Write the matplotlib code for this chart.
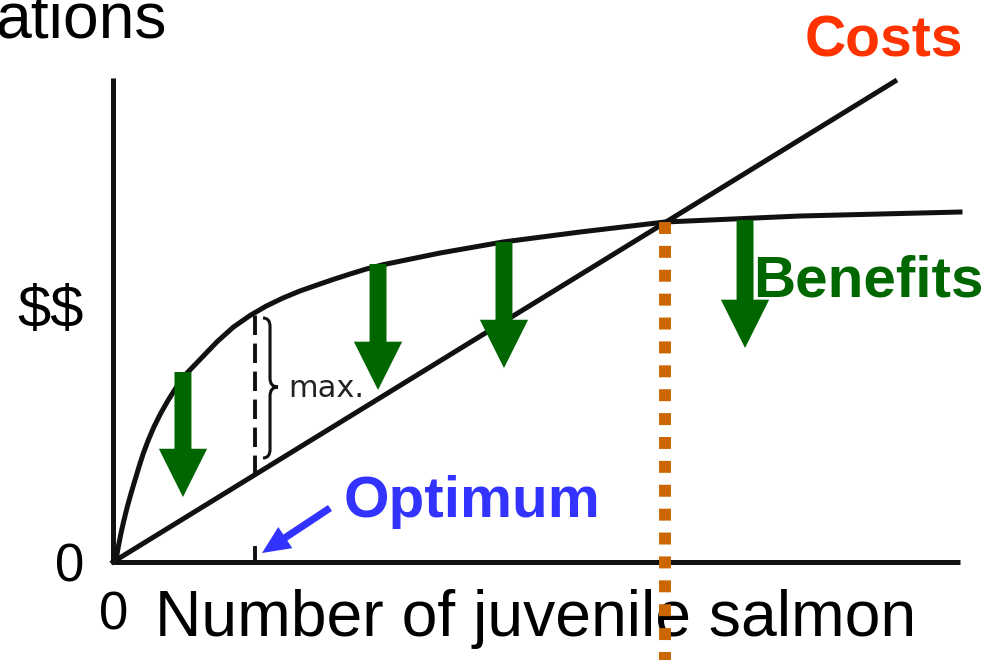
import matplotlib.pyplot as plt
from matplotlib.path import Path
from matplotlib.patches import PathPatch

plt.rcParams['font.family'] = ['Liberation Sans', 'DejaVu Sans']

# benefit curve (x = number of salmon, y = $$)
benefit_x = [0, 0.035, 0.063, 0.094, 0.130, 0.169, 0.213, 0.260, 0.307, 0.358,
             0.417, 0.484, 0.563, 0.653, 0.752, 0.870, 1.007, 1.228, 1.417, 1.617,
             1.806, 2.007, 2.208, 2.408, 2.597, 2.798, 2.987, 3.188, 3.861, 4.604,
             5.514, 6.517, 8.111, 10.0]
benefit_y = [0, 0.024, 0.181, 0.339, 0.496, 0.653, 0.811, 0.968, 1.125, 1.283,
             1.440, 1.597, 1.755, 1.913, 2.070, 2.228, 2.370, 2.600, 2.770, 2.910,
             3.020, 3.117, 3.200, 3.270, 3.335, 3.400, 3.458, 3.510, 3.648, 3.778,
             3.896, 4.014, 4.085, 4.132]

# cost line
costs_x = [0, 9.256]
costs_y = [0, 5.691]

# green arrows (benefit -> cost)
arrow_x = [0.826, 3.129, 4.616, 7.462]
arrow_top = [2.243, 3.518, 3.778, 4.037]
arrow_tip = [0.767, 2.031, 2.290, 2.527]

optimum_x = 1.677
optimum_top = 2.952
optimum_bottom = 1.030
breakeven_x = 6.517
breakeven_y = 4.014

S = 84.7  # pixels per unit


def P(px, py):
    return (px - 113) / S, (562 - py) / S


fig = plt.figure(figsize=(9.9, 6.6), dpi=100)
ax = fig.add_axes([0, 0, 1, 1])
ax.set_xlim(-113 / S, (990 - 113) / S)
ax.set_ylim(-(660 - 562) / S, 562 / S)
ax.axis('off')

ink = '#111111'
lw = 3.6

# axes
ax.plot([0, 0], [0, 5.714], color=ink, lw=lw, solid_capstyle='butt')
ax.plot([0, 10], [0, 0], color=ink, lw=lw, solid_capstyle='butt')

ax.plot(benefit_x, benefit_y, color=ink, lw=lw, solid_joinstyle='round')
ax.plot(costs_x, costs_y, color=ink, lw=lw, solid_capstyle='butt')

# optimum dashed line and tick
ax.plot([optimum_x, optimum_x], [optimum_bottom, optimum_top], color=ink, lw=2.8,
        linestyle=(0, (5, 2.2)), dash_capstyle='butt')
ax.plot([optimum_x, optimum_x], [0, 0.165], color=ink, lw=2.8)

# brace
brace_x = [1.771, 1.854, 1.854, 1.854, 1.854, 1.948, 1.854, 1.854, 1.854, 1.854, 1.771]
brace_y = [2.881, 2.881, 2.78, 2.17, 2.066, 2.066, 2.066, 1.96, 1.33, 1.228, 1.228]
codes = [Path.MOVETO, Path.CURVE3, Path.CURVE3, Path.LINETO, Path.CURVE3, Path.CURVE3,
         Path.CURVE3, Path.CURVE3, Path.LINETO, Path.CURVE3, Path.CURVE3]
ax.add_patch(PathPatch(Path(list(zip(brace_x, brace_y)), codes), fill=False,
                       ec=ink, lw=2.2))
ax.text(*P(288, 397), 'max.', fontsize=22, family='DejaVu Sans', color='#222222',
        ha='left', va='baseline')

# green arrows
for x, top, tip in zip(arrow_x, arrow_top, arrow_tip):
    ax.arrow(x, top, 0, tip - top, width=0.2, head_width=0.57, head_length=0.57,
             length_includes_head=True, fc='#006600', ec='none', zorder=4)

# optimum arrow
tx, ty = P(330, 508)
hx, hy = P(262, 553)
ax.arrow(tx, ty, hx - tx, hy - ty, width=0.085, head_width=0.3, head_length=0.33,
         length_includes_head=True, fc='#3333FF', ec='none', zorder=4)

# break-even dotted line
ax.plot([breakeven_x, breakeven_x], [breakeven_y, -1.3], color='#CC6600', lw=8.6,
        linestyle=(0, (1, 1)), dash_capstyle='butt', zorder=5)

# texts
ax.text(*P(-5, 38), 'ations', fontsize=46.3, ha='left', va='baseline')
ax.text(*P(884, 57), 'Costs', fontsize=41, fontweight='bold', color='#FF3300',
        ha='center', va='baseline')
ax.text(*P(753, 297), 'Benefits', fontsize=42, fontweight='bold', color='#006600',
        ha='left', va='baseline')
ax.text(*P(344, 517), 'Optimum', fontsize=42, fontweight='bold', color='#3333FF',
        ha='left', va='baseline')
ax.text(*P(84, 327), r'\$\$', fontsize=43, ha='right', va='baseline')
ax.text(*P(84, 582), '0', fontsize=38, ha='right', va='baseline')
ax.text(*P(114, 630), '0', fontsize=38, ha='center', va='baseline')
ax.text(*P(155, 636), 'Number of juvenile salmon', fontsize=46.3, ha='left',
        va='baseline')

fig.savefig('out.png', dpi=100)
